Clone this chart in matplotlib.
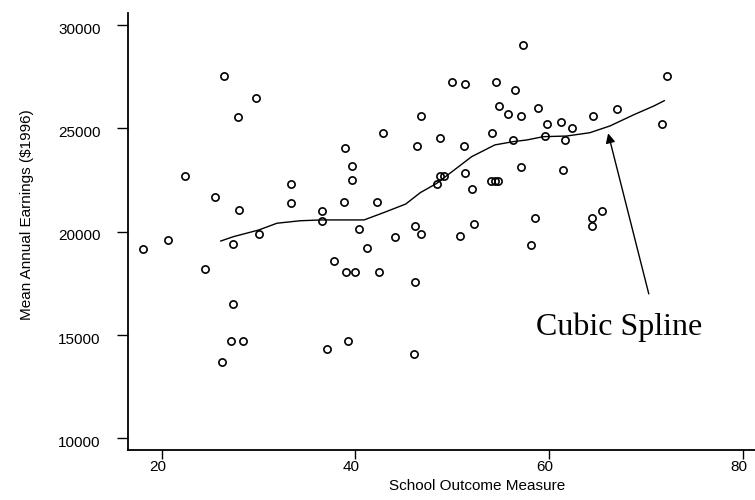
import matplotlib.pyplot as plt
import matplotlib.transforms as mtransforms

# school outcome measure vs mean annual earnings
school = [18.1, 20.6, 22.4, 24.5, 25.5, 26.4, 26.2, 27.4, 27.4, 27.2,
          28.4, 27.9, 28.0, 29.7, 30.0, 33.3, 33.3, 36.5, 36.5, 37.1,
          37.8, 38.8, 38.9, 39.0, 40.0, 39.2, 39.6, 39.6, 40.4, 41.2,
          42.2, 42.4, 42.9, 44.1, 46.1, 46.2, 46.2, 46.8, 46.4, 46.8,
          48.4, 48.7, 49.2, 48.7, 50.0, 51.3, 50.8, 52.2, 51.2, 51.3,
          52.0, 54.0, 54.4, 54.7, 54.1, 54.5, 54.8, 55.8, 56.3, 56.5,
          57.1, 57.1, 57.3, 58.1, 58.6, 58.9, 59.6, 59.8, 61.2, 61.4,
          61.6, 62.4, 64.4, 64.4, 64.5, 65.5, 67.0, 71.7, 72.2]
earnings = [19160, 19580, 22700, 18180, 21670, 27540, 13690, 19420, 16490, 14710,
            14710, 25540, 21050, 26470, 19890, 22290, 21380, 21000, 20500, 14310,
            18570, 21440, 24070, 18040, 18040, 14710, 23190, 22520, 20120, 19220,
            21440, 18040, 24760, 19730, 14080, 17570, 20280, 19890, 24150, 25610,
            22290, 22700, 22700, 24540, 27250, 27160, 19810, 20360, 24150, 22830,
            22050, 22440, 22440, 22440, 24760, 27250, 26080, 25700, 24450, 26860,
            25610, 23150, 29020, 19340, 20680, 26000, 24620, 25230, 25310, 22990,
            24450, 25000, 20680, 20280, 25610, 21020, 25920, 25230, 27550]

# fitted cubic spline
spline_x = [26.1, 27.4, 30.0, 31.9, 34.3, 36.5, 39.1, 40.9, 42.9, 45.2,
            46.7, 48.4, 52.0, 54.4, 56.3, 57.7, 59.4, 61.8, 64.2, 66.3,
            68.7, 70.8, 71.9]
spline_y = [19550, 19760, 20080, 20410, 20530, 20570, 20570, 20570, 20920, 21340,
            21890, 22340, 23630, 24200, 24360, 24440, 24600, 24630, 24790, 25120,
            25650, 26080, 26340]

x_ticks = [20, 40, 60, 80]
y_ticks = [10000, 15000, 20000, 25000, 30000]

plt.rcParams['font.family'] = ['Liberation Sans', 'DejaVu Sans']

fig = plt.figure(figsize=(7.55, 5), dpi=100)
ax = fig.add_axes([0.170, 0.1, 0.924, 0.8746])

ax.plot(school, earnings, 'o', mfc='none', mec='black', ms=5.2, mew=1.2)
ax.plot(spline_x, spline_y, color='black', lw=1.0)

# arrow pointing at the spline + its label
ax.annotate('', xy=(66.1, 24760), xytext=(70.3, 16990),
            arrowprops=dict(arrowstyle='-|>', color='black', lw=1.0,
                            mutation_scale=14, shrinkA=0, shrinkB=0))
ax.text(58.7, 15000, 'Cubic Spline', family=['Liberation Serif', 'DejaVu Serif'],
        fontsize=23, va='baseline', ha='left')

ax.set_xlim(16.55, 88.6)
ax.set_ylim(9434, 30600)
ax.set_xticks(x_ticks)
ax.set_yticks(y_ticks)

for side in ['top', 'right']:
    ax.spines[side].set_visible(False)
for side in ['left', 'bottom']:
    ax.spines[side].set_linewidth(1.3)

ax.tick_params(axis='y', length=8, width=1.0, pad=12, labelsize=11)
ax.tick_params(axis='x', length=6.5, width=1.0, pad=1, labelsize=11)

# labels sit a little off their ticks in the original
dy = mtransforms.ScaledTranslation(0, -3 / 100, fig.dpi_scale_trans)
for lab in ax.get_yticklabels():
    lab.set_transform(lab.get_transform() + dy)
dx = mtransforms.ScaledTranslation(-4 / 100, 0, fig.dpi_scale_trans)
for lab in ax.get_xticklabels():
    lab.set_transform(lab.get_transform() + dx)

ax.set_xlabel('School Outcome Measure', fontsize=11)
ax.set_ylabel('Mean Annual Earnings ($1996)', fontsize=11)
ax.xaxis.set_label_coords(477 / 755, 1 - 479 / 500, transform=fig.transFigure)
ax.yaxis.set_label_coords(34 / 755, 1 - 215 / 500, transform=fig.transFigure)

fig.savefig('out.png', dpi=100)
